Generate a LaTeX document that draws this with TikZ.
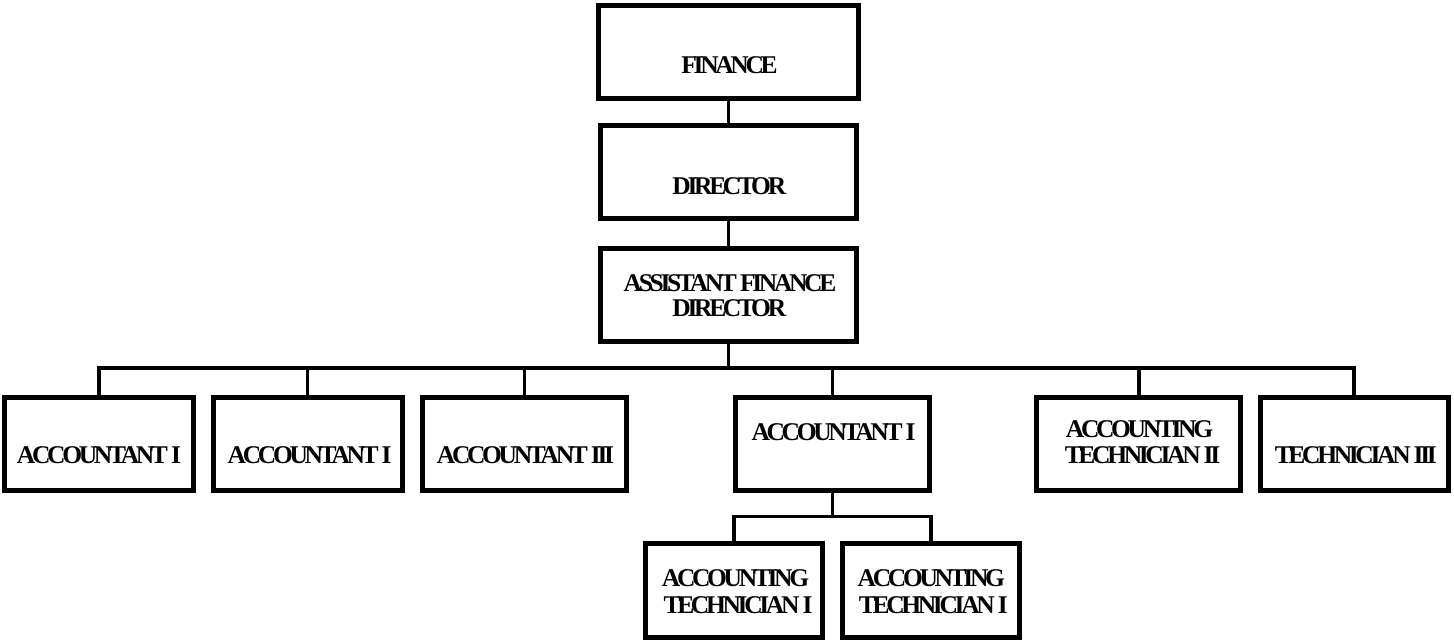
\documentclass[tikz,border=0pt]{standalone}
\usepackage{fontspec}
\newfontfamily\orgfont{Liberation Serif}[LetterSpace=-13]
\begin{document}
\begin{tikzpicture}[x=0.5pt,y=-0.5pt,
  box/.style={draw, line width=2.5pt, minimum height=46.5pt, inner sep=0pt},
  lab/.style={anchor=base, inner sep=0pt, font={\orgfont\bfseries\fontsize{12.75}{14}\selectfont}},
  conn/.style={line width=1.75pt}]
\fill[white] (0,0) rectangle (1454,641);
\useasboundingbox (0,0) rectangle (1454,641);
% top chain
\node[box, minimum width=130pt] (fin) at (728.5,52) {};
\node[box, minimum width=128pt] (dir) at (728.5,172) {};
\node[box, minimum width=128pt, minimum height=46.25pt] (asst) at (728.5,294.75) {};
% row
\node[box, minimum width=94.65pt] (b1) at (98.85,443.5) {};
\node[box, minimum width=94.4pt] (b2) at (307.6,443.5) {};
\node[box, minimum width=102.4pt] (b3) at (524.4,443.5) {};
\node[box, minimum width=96.7pt] (b4) at (832.5,443.5) {};
\node[box, minimum width=102pt] (b5) at (1138.8,443.5) {};
\node[box, minimum width=94.15pt] (b6) at (1354.2,443.5) {};
% sub row
\node[box, minimum width=88.35pt, minimum height=47pt] (s1) at (734.2,590.5) {};
\node[box, minimum width=88.75pt, minimum height=47pt] (s2) at (930.75,590.5) {};
% connectors
\coordinate (bus) at (728.5,368);
\coordinate (sbus) at (832.5,516.7);
\draw[conn] (fin.south) -- (dir.north);
\draw[conn] (dir.south) -- (asst.north);
\draw[conn] (asst.south) -- (bus);
\draw[conn] (b1.north) -- (b1.north |- bus) -- (b6.north |- bus) -- (b6.north);
\foreach \b in {b2,b3,b4,b5} \draw[conn] (\b.north) -- (\b.north |- bus);
\draw[conn] (b4.south) -- (sbus);
\draw[conn] (s1.north) -- (s1.north |- sbus) -- (s2.north |- sbus) -- (s2.north);
% labels
\node[lab] (finT) at (729.5,74) {FINANCE};
\node[lab] (dirT) at (729.3,194.3) {DIRECTOR};
\node[lab] (asstT1) at (730,291.7) {ASSISTANT FINANCE};
\node[lab] (asstT2) at (729.3,316) {DIRECTOR};
\node[lab] (b1T) at (99,463.3) {ACCOUNTANT I};
\node[lab] (b2T) at (309.7,463.3) {ACCOUNTANT I};
\node[lab] (b3T) at (525.5,463.3) {ACCOUNTANT III};
\node[lab] (b4T) at (833.5,440) {ACCOUNTANT I};
\node[lab] (b5T1) at (1139.5,437) {ACCOUNTING};
\node[lab] (b5T2) at (1142.5,463.3) {TECHNICIAN II};
\node[lab] (b6T) at (1355.8,463.3) {TECHNICIAN III};
\node[lab] (s1T1) at (735.5,586.7) {ACCOUNTING};
\node[lab] (s1T2) at (738,613.3) {TECHNICIAN I};
\node[lab] (s2T1) at (931.3,586.7) {ACCOUNTING};
\node[lab] (s2T2) at (933.3,613.3) {TECHNICIAN I};
\end{tikzpicture}
\end{document}
